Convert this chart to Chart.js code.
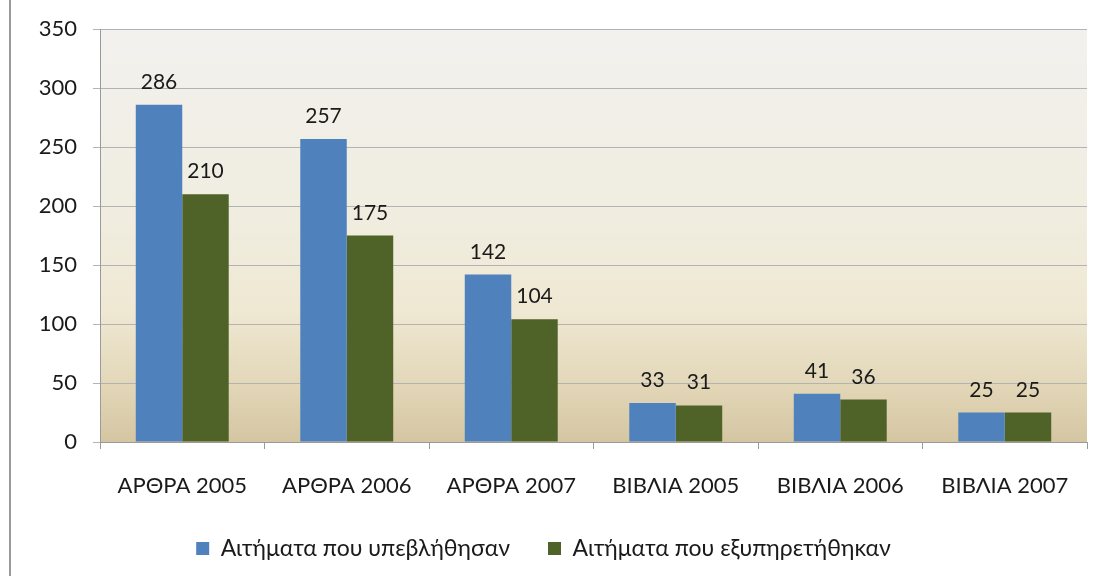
<!DOCTYPE html>
<html>
<head>
<meta charset="utf-8">
<script src="https://cdn.jsdelivr.net/npm/chart.js@4/dist/chart.umd.min.js"></script>
<style>
  html, body { margin: 0; padding: 0; background: #fff; }
  #wrap { position: relative; width: 1102px; height: 576px; overflow: hidden; }
  #wrap:before { content: ""; position: absolute; left: 9px; top: 0; bottom: 0; border-left: 2px solid #9a9a9a; }
  canvas { position: absolute; left: 0; top: 0; }
</style>
</head>
<body>
<div id="wrap"><canvas id="chart" width="1102" height="576"></canvas></div>
<script>
const categories = ["ΑΡΘΡΑ 2005", "ΑΡΘΡΑ 2006", "ΑΡΘΡΑ 2007", "ΒΙΒΛΙΑ 2005", "ΒΙΒΛΙΑ 2006", "ΒΙΒΛΙΑ 2007"];
const submitted = [286, 257, 142, 33, 41, 25];
const served = [210, 175, 104, 31, 36, 25];
const seriesNames = ["Αιτήματα που υπεβλήθησαν", "Αιτήματα που εξυπηρετήθηκαν"];
const yTicks = [0, 50, 100, 150, 200, 250, 300, 350];

const font = "Lato, 'Open Sans', sans-serif";
const textColor = "#1a1a1a";

// plot area gradient
const plotBg = {
  id: "plotBg",
  beforeDraw(chart) {
    const { ctx, chartArea: a } = chart;
    const g = ctx.createLinearGradient(0, a.top, 0, a.bottom);
    g.addColorStop(0, "#f2f1ee");
    g.addColorStop(0.45, "#f0ede0");
    g.addColorStop(0.68, "#efe8d3");
    g.addColorStop(0.85, "#e3d8ba");
    g.addColorStop(1, "#d5c6a2");
    ctx.save();
    ctx.fillStyle = g;
    ctx.fillRect(a.left, a.top, a.right - a.left, a.bottom - a.top);
    ctx.restore();
  }
};

// value labels above bars
const barLabels = {
  id: "barLabels",
  afterDatasetsDraw(chart) {
    const ctx = chart.ctx;
    ctx.save();
    ctx.font = "21px " + font;
    ctx.fillStyle = textColor;
    ctx.textAlign = "center";
    ctx.textBaseline = "alphabetic";
    chart.data.datasets.forEach((ds, i) => {
      chart.getDatasetMeta(i).data.forEach((bar, j) => {
        ctx.fillText(ds.data[j], bar.x, bar.y - 16);
      });
    });
    ctx.restore();
  }
};

new Chart(document.getElementById("chart"), {
  type: "bar",
  data: {
    labels: categories,
    datasets: [
      { label: seriesNames[0], data: submitted, backgroundColor: "#4f81bd" },
      { label: seriesNames[1], data: served, backgroundColor: "#4f6228" }
    ]
  },
  options: {
    responsive: false,
    animation: false,
    datasets: { bar: { categoryPercentage: 0.565, barPercentage: 1.0 } },
    layout: { padding: { left: 0, right: 15, top: 28, bottom: 6 } },
    scales: {
      x: {
        offset: true,
        grid: { offset: true, drawOnChartArea: false, color: "#9a9a9a", tickLength: 7 },
        border: { color: "#9a9a9a" },
        ticks: { color: textColor, font: { family: font, size: 22 }, padding: 24 },
        afterFit(s) { s.height = 57; }
      },
      y: {
        min: 0, max: 350,
        afterBuildTicks(s) { s.ticks = yTicks.map(v => ({ value: v })); },
        grid: { color: "#b3b3b3", lineWidth: 1, tickLength: 7 },
        border: { color: "#9a9a9a" },
        ticks: { color: textColor, font: { family: font, size: 22 }, padding: 16 },
        afterFit(s) { s.width = 100; }
      }
    },
    plugins: {
      legend: {
        position: "bottom",
        labels: {
          color: textColor,
          font: { family: font, size: 23 },
          boxWidth: 13, boxHeight: 13,
          padding: 38
        }
      },
      tooltip: { enabled: false }
    }
  },
  plugins: [plotBg, barLabels]
});
</script>
</body>
</html>
